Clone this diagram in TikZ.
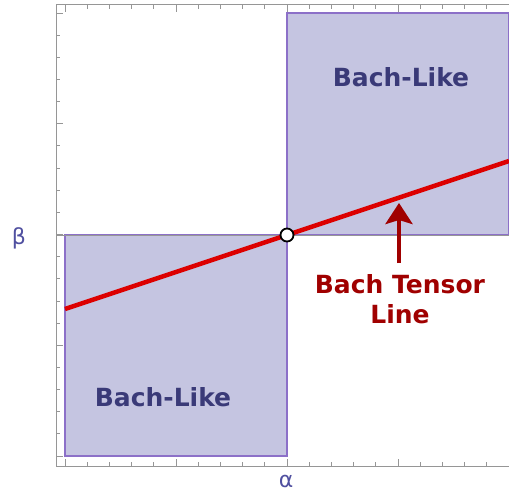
\documentclass[tikz,border=0pt]{standalone}
\usepackage{fontspec}
\setmainfont{DejaVu Sans}
\usetikzlibrary{arrows.meta,positioning,calc}

\definecolor{regionfill}{RGB}{197,197,225}
\definecolor{regionedge}{RGB}{140,112,200}
\definecolor{likeblue}{RGB}{58,58,120}
\definecolor{axisblue}{RGB}{80,80,160}
\definecolor{tensorred}{RGB}{221,0,0}
\definecolor{darkred}{RGB}{160,0,0}
\definecolor{framegray}{RGB}{150,150,150}

\begin{document}
\begin{tikzpicture}[x=1pt,y=-1pt,
    region/.style={fill=regionfill,draw=regionedge,line width=1.2pt},
    frame/.style={draw=framegray,line width=0.9pt},
    likelabel/.style={text=likeblue,font=\fontsize{25}{30}\selectfont\bfseries},
    tensorlabel/.style={text=darkred,font=\fontsize{25}{30}\selectfont\bfseries,align=center,inner sep=0pt},
    axislabel/.style={text=axisblue,font=\fontsize{22}{26}\selectfont}]
    \useasboundingbox (0,0) rectangle (509,493);

    \filldraw[region] (287,13) rectangle (509,235);
    \filldraw[region] (65,235) rectangle (287,456);

    % frame and ticks
    \draw[frame] (509,4.5) -- (56,4.5) -- (56,466) -- (509,466);
    \foreach \i in {0,...,20}{
        \pgfmathsetmacro{\tx}{65+22.2*\i}
        \pgfmathsetmacro{\ty}{13+22.15*\i}
        \pgfmathsetmacro{\tl}{ifthenelse(mod(\i,5)==0,7,4)}
        \draw[frame] (\tx,4.5) -- ++(0,\tl);
        \draw[frame] (\tx,466) -- ++(0,-\tl);
        \draw[frame] (56,\ty) -- ++(\tl,0);
    }
    \draw[frame] (56,235) -- (509,235);

    \coordinate (lstart) at (65,309);
    \coordinate (lend) at (509,161);
    \draw[tensorred,line width=4.5pt] (lstart) -- (lend);
    \node[circle,draw=black,fill=white,line width=1.8pt,minimum size=13pt,inner sep=0pt] (origin) at (287,235) {};

    \node[likelabel] (upper) at (401,77) {Bach-Like};
    \node[likelabel] (lower) at (163,397) {Bach-Like};

    \node[tensorlabel] (tensor) at (400,299) {Bach Tensor\\Line};
    \coordinate (tip) at (399,203);
    \draw[darkred,line width=4.5pt,-{Stealth[length=21pt,width=27pt,inset=4pt]},shorten <=11pt] (tensor.north -| tip) -- (tip);

    \node[axislabel] (beta) at (19,238) {β};
    \node[axislabel] (alpha) at (286,481) {α};
\end{tikzpicture}
\end{document}
